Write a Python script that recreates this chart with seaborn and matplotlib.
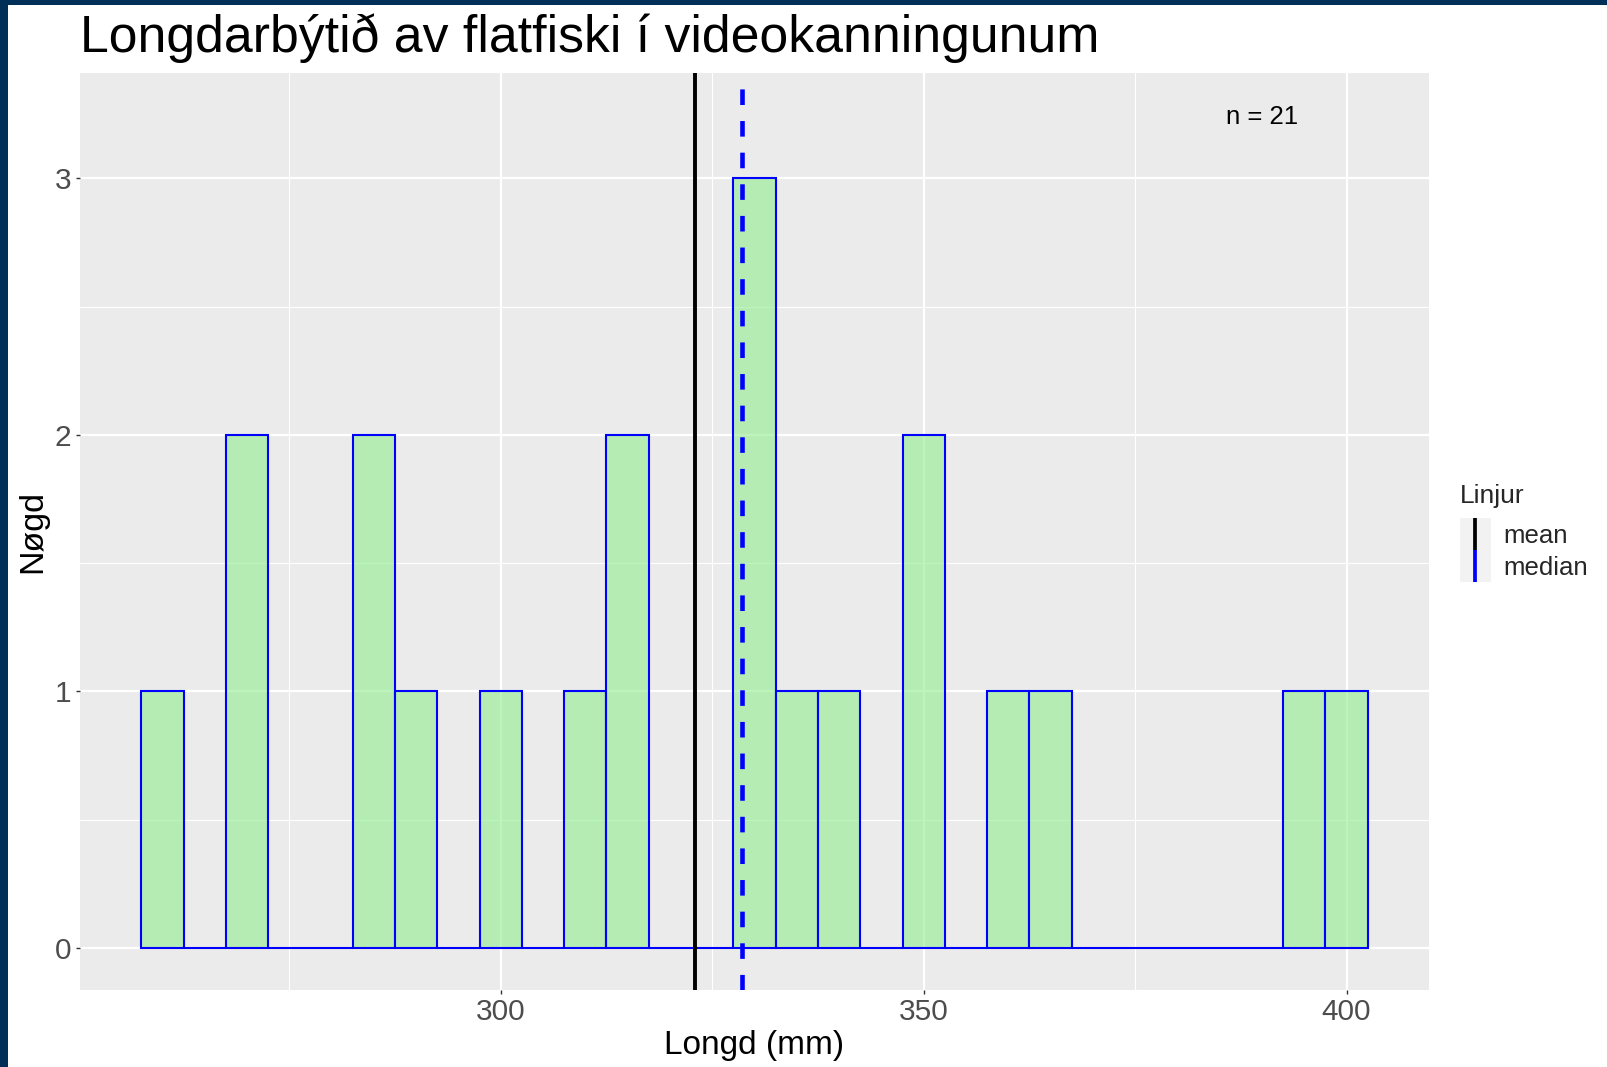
import numpy as np
import pandas as pd
import matplotlib
matplotlib.use("Agg")
import matplotlib.pyplot as plt
import seaborn as sns
from matplotlib.lines import Line2D
from matplotlib.patches import Rectangle
from matplotlib.legend_handler import HandlerBase
from matplotlib.ticker import MultipleLocator

# fish lengths (mm)
longd = [260, 270, 270, 285, 285, 290, 300, 310, 315, 315,
         328.5, 330, 330, 335, 340, 350, 350, 360, 365, 395, 400]
bin_width = 5
bin_start = 257.5
bin_end = 402.5

title = "Longdarbýtið av flatfiski í videokanningunum"
x_label = "Longd (mm)"
y_label = "Nøgd"
legend_title = "Linjur"
line_labels = ["mean", "median"]
n_text_pos = (390, 3.25)

df = pd.DataFrame({"longd": longd})
mean_val = df["longd"].mean()
median_val = df["longd"].median()

sns.set_theme(style="darkgrid")
plt.rcParams["font.family"] = ["Liberation Sans", "DejaVu Sans"]

fig = plt.figure(figsize=(16.08, 10.67), dpi=100)
ax = fig.add_axes([80 / 1608, 1 - 989.5 / 1067, (1429 - 80) / 1608, (989.5 - 72.7) / 1067])
ax.set_facecolor("#ebebeb")
for s in ax.spines.values():
    s.set_visible(False)

sns.histplot(data=df, x="longd", binwidth=bin_width, binrange=(bin_start, bin_end),
             ax=ax, linewidth=1.5)
# fill only is transparent, edge stays solid blue (like ggplot alpha)
for p in ax.patches:
    p.set_facecolor((0.565, 0.933, 0.565, 0.6))
    p.set_edgecolor("blue")
    p.set_linewidth(1.5)

mean_line = ax.axvline(mean_val, color="black", lw=2.8, zorder=3)
median_line = ax.axvline(median_val, color="blue", lw=3.3, ls=(0, (3.4, 3.5)), zorder=3)

ax.text(n_text_pos[0], n_text_pos[1], f"n = {len(longd)}", ha="center", va="center_baseline",
        fontsize=18.5, color="black")

# ggplot-like 5% expansion
xr = bin_end - bin_start
ax.set_xlim(bin_start - 0.05 * xr, bin_end + 0.05 * xr)
ymax = n_text_pos[1]
ax.set_ylim(-0.05 * ymax, ymax * 1.05)

ax.xaxis.set_major_locator(MultipleLocator(50))
ax.xaxis.set_minor_locator(MultipleLocator(25))
ax.yaxis.set_major_locator(MultipleLocator(1))
ax.yaxis.set_minor_locator(MultipleLocator(0.5))
ax.grid(which="major", color="white", lw=1.6)
ax.grid(which="minor", color="white", lw=0.8)
ax.set_axisbelow(True)
ax.tick_params(which="major", length=3.2, width=1, color="#333333", labelcolor="#4d4d4d",
               labelsize=21.5, pad=3, bottom=True, left=True)
ax.tick_params(which="minor", length=0)

ax.set_xlabel(x_label, fontsize=24, color="black", labelpad=3)
ax.set_ylabel(y_label, fontsize=24.5, color="black", labelpad=5)
ax.set_title(title, loc="left", fontsize=37.3, pad=15, color="black")


class VLineHandler(HandlerBase):
    def create_artists(self, legend, orig_handle, xdescent, ydescent, width, height, fontsize, trans):
        bg = Rectangle((-xdescent, -ydescent), width, height, facecolor="#f2f2f2",
                       edgecolor="none", transform=trans)
        x = -xdescent + width / 2
        ln = Line2D([x, x], [-ydescent, height - ydescent], color=orig_handle.get_color(),
                    lw=2.7, solid_capstyle="butt", transform=trans)
        return [bg, ln]


leg = ax.legend([mean_line, median_line], line_labels, loc="upper left",
                bbox_to_anchor=(1460 / 1608, 1 - 518 / 1067), bbox_transform=fig.transFigure,
                frameon=False, borderpad=0, borderaxespad=0, fontsize=18.5,
                handlelength=1.2, handleheight=1.55, labelspacing=0, handletextpad=0.5,
                handler_map={Line2D: VLineHandler()})
fig.text(1460 / 1608, 1 - 503 / 1067, legend_title, fontsize=19, ha="left", va="baseline")

# dark frame on the left and top edge of the slide
fig.patches.append(Rectangle((0, 0), 8 / 1608, 1, transform=fig.transFigure,
                             facecolor="#003057", edgecolor="none"))
fig.patches.append(Rectangle((0, 1 - 5 / 1067), 1, 5 / 1067, transform=fig.transFigure,
                             facecolor="#003057", edgecolor="none"))

fig.savefig("out.png", dpi=100)
